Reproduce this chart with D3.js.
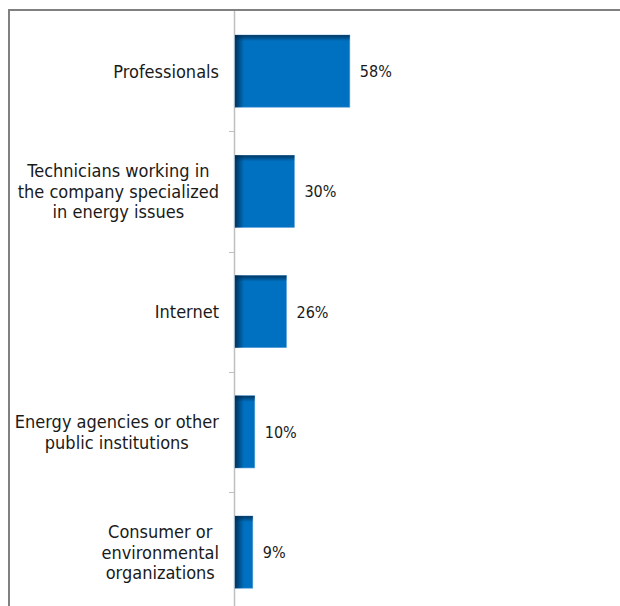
<!DOCTYPE html>
<html><head><meta charset="utf-8">
<script src="https://cdn.jsdelivr.net/npm/d3@7"></script>
<style>html,body{margin:0;padding:0;background:#fff;overflow:hidden}</style>
</head><body>
<script>
const categories = [
  ["Professionals"],
  ["Technicians working in", "the company specialized", "in energy issues"],
  ["Internet"],
  ["Energy agencies or other", "public institutions"],
  ["Consumer or", "environmental", "organizations"]
];
const values = [58, 30, 26, 10, 9];
const valueLabels = ["58%", "30%", "26%", "10%", "9%"];

const W = 620, H = 606;
const svg = d3.select("body").append("svg").attr("width", W).attr("height", H).style("display", "block");
const font = "'DejaVu Sans Condensed', 'DejaVu Sans', sans-serif";

const defs = svg.append("defs");
const gL = defs.append("linearGradient").attr("id", "shadeL").attr("x1", 0).attr("x2", 1).attr("y1", 0).attr("y2", 0);
gL.append("stop").attr("offset", 0).attr("stop-color", "#00284a").attr("stop-opacity", 0.85);
gL.append("stop").attr("offset", 1).attr("stop-color", "#00284a").attr("stop-opacity", 0);
const gT = defs.append("linearGradient").attr("id", "shadeT").attr("x1", 0).attr("x2", 0).attr("y1", 0).attr("y2", 1);
gT.append("stop").attr("offset", 0).attr("stop-color", "#00284a").attr("stop-opacity", 0.8);
gT.append("stop").attr("offset", 1).attr("stop-color", "#00284a").attr("stop-opacity", 0);

// outer border (top and left only visible)
svg.append("line").attr("x1", 8).attr("x2", W).attr("y1", 10).attr("y2", 10)
  .attr("stroke", "#808080").attr("stroke-width", 2);
svg.append("line").attr("x1", 9).attr("x2", 9).attr("y1", 9).attr("y2", H)
  .attr("stroke", "#808080").attr("stroke-width", 2);

const idx = d3.range(values.length);
const y = d3.scaleBand().domain(idx).range([11, 612.25]).paddingInner(0.4).paddingOuter(0.2);
const x = d3.scaleLinear().domain([0, 100]).range([235, 433]);

// axis line and ticks
const axisX = 234.5;
svg.append("line").attr("x1", axisX).attr("x2", axisX).attr("y1", 11).attr("y2", H)
  .attr("stroke", "#bfbfbf").attr("stroke-width", 1.5);
const step = y.step();
const tickYs = d3.range(1, values.length).map(i => y.range()[0] + i * step);
svg.selectAll(".tick").data(tickYs).enter().append("line")
  .attr("x1", 229).attr("x2", axisX).attr("y1", d => Math.round(d) + 0.5).attr("y2", d => Math.round(d) + 0.5)
  .attr("stroke", "#bfbfbf").attr("stroke-width", 1);

// bars
const g = svg.append("g");
idx.forEach(i => {
  const bx = x(0), by = y(i), bw = x(values[i]) - x(0), bh = y.bandwidth();
  g.append("rect").attr("x", bx).attr("y", by).attr("width", bw).attr("height", bh)
    .attr("fill", "#0070c0").attr("stroke", "#5aa0dc").attr("stroke-width", 0.6);
  g.append("rect").attr("x", bx).attr("y", by).attr("width", Math.min(9, bw)).attr("height", bh).attr("fill", "url(#shadeL)");
  g.append("rect").attr("x", bx).attr("y", by).attr("width", bw).attr("height", 6).attr("fill", "url(#shadeT)");
});

// value labels
svg.selectAll(".val").data(idx).enter().append("text")
  .attr("x", i => x(values[i]) + 10).attr("y", i => y(i) + y.bandwidth() / 2 + 6)
  .attr("font-family", font).attr("font-size", 16).attr("fill", "#1a1a1a")
  .text(i => valueLabels[i]);

// category labels
const lh = 20.5;
idx.forEach(i => {
  const lines = categories[i];
  const cy = y(i) + y.bandwidth() / 2;
  const t = svg.append("text").attr("text-anchor", "middle")
    .attr("font-family", font).attr("font-size", 18).attr("fill", "#1a1a1a");
  const n = lines.length;
  lines.forEach((ln, k) => {
    t.append("tspan").attr("x", 0).attr("y", cy + 6.5 + (k - (n - 1) / 2) * lh).text(ln);
  });
  const bb = t.node().getBBox();
  t.attr("transform", `translate(${219 - bb.width / 2},0)`);
});
</script>
</body></html>
